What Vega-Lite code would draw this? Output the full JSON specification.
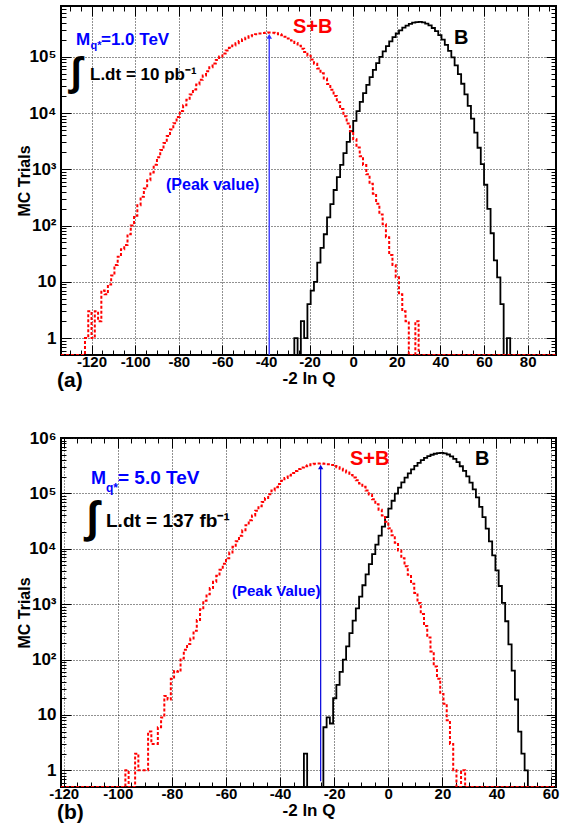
{
"$schema": "https://vega.github.io/schema/vega-lite/v6.json",
"background": "white",
"padding": {"left": 15, "top": 4, "right": 10, "bottom": 2},
"spacing": 83,
"bounds": "flush",
"config": {
  "view": {"stroke": "#000", "strokeWidth": 2},
  "axis": {"labelFont": "Liberation Sans", "labelFontWeight": "bold", "labelColor": "#000", "titleFont": "Liberation Sans", "titleFontWeight": "bold", "titleColor": "#000", "domain": false, "tickColor": "#000", "tickWidth": 1, "gridColor": "#222", "gridDash": [1, 2], "gridWidth": 1, "labelOverlap": false, "labelFlush": false, "labelBound": false}
},
"datasets": {
"a": [
{"s":"B","x":-28.5,"y":0.5},{"s":"B","x":-27,"y":1},{"s":"B","x":-25.5,"y":0.5},{"s":"B","x":-24,"y":2},{"s":"B","x":-22.5,"y":1},{"s":"B","x":-21,"y":4},{"s":"B","x":-19.5,"y":7},{"s":"B","x":-18,"y":10},{"s":"B","x":-16.5,"y":22},{"s":"B","x":-15,"y":40},{"s":"B","x":-13.5,"y":70},{"s":"B","x":-12,"y":140},{"s":"B","x":-10.5,"y":240},{"s":"B","x":-9,"y":429},{"s":"B","x":-7.5,"y":724},{"s":"B","x":-6,"y":1197},{"s":"B","x":-4.5,"y":1941},{"s":"B","x":-3,"y":3076},{"s":"B","x":-1.5,"y":4780},{"s":"B","x":0,"y":7280},{"s":"B","x":1.5,"y":10840},{"s":"B","x":3,"y":15850},{"s":"B","x":4.5,"y":22650},{"s":"B","x":6,"y":31700},{"s":"B","x":7.5,"y":43550},{"s":"B","x":9,"y":58480},{"s":"B","x":10.5,"y":77090},{"s":"B","x":12,"y":99300},{"s":"B","x":13.5,"y":125300},{"s":"B","x":15,"y":155200},{"s":"B","x":16.5,"y":187900},{"s":"B","x":18,"y":223300},{"s":"B","x":19.5,"y":259400},{"s":"B","x":21,"y":295100},{"s":"B","x":22.5,"y":329600},{"s":"B","x":24,"y":359700},{"s":"B","x":25.5,"y":385500},{"s":"B","x":27,"y":403600},{"s":"B","x":28.5,"y":414000},{"s":"B","x":30,"y":416900},{"s":"B","x":31.5,"y":408300},{"s":"B","x":33,"y":389000},{"s":"B","x":34.5,"y":360600},{"s":"B","x":36,"y":325100},{"s":"B","x":37.5,"y":285100},{"s":"B","x":39,"y":243200},{"s":"B","x":40.5,"y":201400},{"s":"B","x":42,"y":162600},{"s":"B","x":43.5,"y":127600},{"s":"B","x":45,"y":97300},{"s":"B","x":46.5,"y":70500},{"s":"B","x":48,"y":49300},{"s":"B","x":49.5,"y":33200},{"s":"B","x":51,"y":21500},{"s":"B","x":52.5,"y":13400},{"s":"B","x":54,"y":7960},{"s":"B","x":55.5,"y":4490},{"s":"B","x":57,"y":2415},{"s":"B","x":58.5,"y":1240},{"s":"B","x":60,"y":531},{"s":"B","x":61.5,"y":198},{"s":"B","x":63,"y":73},{"s":"B","x":64.5,"y":24},{"s":"B","x":66,"y":12},{"s":"B","x":67.5,"y":4},{"s":"B","x":69,"y":0.5},{"s":"B","x":70.5,"y":1},{"s":"B","x":72,"y":0.5},{"s":"B","x":73.5,"y":0.5},
{"s":"SB","x":-134,"y":0.5},{"s":"SB","x":-123,"y":1},{"s":"SB","x":-121.5,"y":3},{"s":"SB","x":-120,"y":1},{"s":"SB","x":-118.5,"y":3},{"s":"SB","x":-117,"y":2},{"s":"SB","x":-115.5,"y":7},{"s":"SB","x":-114,"y":6},{"s":"SB","x":-112.5,"y":9},{"s":"SB","x":-111,"y":13},{"s":"SB","x":-109.5,"y":20},{"s":"SB","x":-108,"y":28},{"s":"SB","x":-106.5,"y":38},{"s":"SB","x":-105,"y":45},{"s":"SB","x":-103.5,"y":70},{"s":"SB","x":-102,"y":100},{"s":"SB","x":-100.5,"y":150},{"s":"SB","x":-99,"y":229},{"s":"SB","x":-97.5,"y":325},{"s":"SB","x":-96,"y":457},{"s":"SB","x":-94.5,"y":638},{"s":"SB","x":-93,"y":881},{"s":"SB","x":-91.5,"y":1208},{"s":"SB","x":-90,"y":1641},{"s":"SB","x":-88.5,"y":2208},{"s":"SB","x":-87,"y":2944},{"s":"SB","x":-85.5,"y":3890},{"s":"SB","x":-84,"y":5100},{"s":"SB","x":-82.5,"y":6620},{"s":"SB","x":-81,"y":8530},{"s":"SB","x":-79.5,"y":10890},{"s":"SB","x":-78,"y":13770},{"s":"SB","x":-76.5,"y":17260},{"s":"SB","x":-75,"y":21430},{"s":"SB","x":-73.5,"y":26360},{"s":"SB","x":-72,"y":32210},{"s":"SB","x":-70.5,"y":38900},{"s":"SB","x":-69,"y":46670},{"s":"SB","x":-67.5,"y":55460},{"s":"SB","x":-66,"y":65310},{"s":"SB","x":-64.5,"y":76210},{"s":"SB","x":-63,"y":88100},{"s":"SB","x":-61.5,"y":100900},{"s":"SB","x":-60,"y":114800},{"s":"SB","x":-58.5,"y":129100},{"s":"SB","x":-57,"y":144200},{"s":"SB","x":-55.5,"y":159600},{"s":"SB","x":-54,"y":175000},{"s":"SB","x":-52.5,"y":190100},{"s":"SB","x":-51,"y":204700},{"s":"SB","x":-49.5,"y":218800},{"s":"SB","x":-48,"y":231200},{"s":"SB","x":-46.5,"y":242700},{"s":"SB","x":-45,"y":252400},{"s":"SB","x":-43.5,"y":259400},{"s":"SB","x":-42,"y":264800},{"s":"SB","x":-40.5,"y":268500},{"s":"SB","x":-39,"y":269200},{"s":"SB","x":-37.5,"y":266700},{"s":"SB","x":-36,"y":261200},{"s":"SB","x":-34.5,"y":252400},{"s":"SB","x":-33,"y":241000},{"s":"SB","x":-31.5,"y":227000},{"s":"SB","x":-30,"y":211300},{"s":"SB","x":-28.5,"y":194100},{"s":"SB","x":-27,"y":175800},{"s":"SB","x":-25.5,"y":157400},{"s":"SB","x":-24,"y":139300},{"s":"SB","x":-22.5,"y":121600},{"s":"SB","x":-21,"y":104700},{"s":"SB","x":-19.5,"y":89100},{"s":"SB","x":-18,"y":75000},{"s":"SB","x":-16.5,"y":62100},{"s":"SB","x":-15,"y":50900},{"s":"SB","x":-13.5,"y":41100},{"s":"SB","x":-12,"y":32900},{"s":"SB","x":-10.5,"y":25880},{"s":"SB","x":-9,"y":20140},{"s":"SB","x":-7.5,"y":15490},{"s":"SB","x":-6,"y":11750},{"s":"SB","x":-4.5,"y":8810},{"s":"SB","x":-3,"y":6520},{"s":"SB","x":-1.5,"y":4750},{"s":"SB","x":0,"y":3430},{"s":"SB","x":1.5,"y":2440},{"s":"SB","x":3,"y":1714},{"s":"SB","x":4.5,"y":1191},{"s":"SB","x":6,"y":815},{"s":"SB","x":7.5,"y":552},{"s":"SB","x":9,"y":368},{"s":"SB","x":10.5,"y":243},{"s":"SB","x":12,"y":158},{"s":"SB","x":13.5,"y":105},{"s":"SB","x":15,"y":62},{"s":"SB","x":16.5,"y":30},{"s":"SB","x":18,"y":20},{"s":"SB","x":19.5,"y":12},{"s":"SB","x":21,"y":6},{"s":"SB","x":22.5,"y":3},{"s":"SB","x":24,"y":2},{"s":"SB","x":25.5,"y":0.5},{"s":"SB","x":28.5,"y":2},{"s":"SB","x":30,"y":0.5},{"s":"SB","x":93,"y":0.5}
],
"b": [
{"s":"B","x":-32.4,"y":0.5},{"s":"B","x":-31.2,"y":2},{"s":"B","x":-30,"y":0.5},{"s":"B","x":-24,"y":6},{"s":"B","x":-22.8,"y":9},{"s":"B","x":-21.6,"y":7},{"s":"B","x":-20.4,"y":20},{"s":"B","x":-19.2,"y":35},{"s":"B","x":-18,"y":60},{"s":"B","x":-16.8,"y":100},{"s":"B","x":-15.6,"y":173},{"s":"B","x":-14.4,"y":299},{"s":"B","x":-13.2,"y":506},{"s":"B","x":-12,"y":841},{"s":"B","x":-10.8,"y":1371},{"s":"B","x":-9.6,"y":2193},{"s":"B","x":-8.4,"y":3443},{"s":"B","x":-7.2,"y":5300},{"s":"B","x":-6,"y":8000},{"s":"B","x":-4.8,"y":11860},{"s":"B","x":-3.6,"y":17220},{"s":"B","x":-2.4,"y":25180},{"s":"B","x":-1.2,"y":37150},{"s":"B","x":0,"y":53090},{"s":"B","x":1.2,"y":73620},{"s":"B","x":2.4,"y":98860},{"s":"B","x":3.6,"y":127400},{"s":"B","x":4.8,"y":157800},{"s":"B","x":6,"y":192300},{"s":"B","x":7.2,"y":230100},{"s":"B","x":8.4,"y":270400},{"s":"B","x":9.6,"y":312600},{"s":"B","x":10.8,"y":355600},{"s":"B","x":12,"y":397200},{"s":"B","x":13.2,"y":436500},{"s":"B","x":14.4,"y":470900},{"s":"B","x":15.6,"y":498900},{"s":"B","x":16.8,"y":520000},{"s":"B","x":18,"y":533300},{"s":"B","x":19.2,"y":537000},{"s":"B","x":20.4,"y":527500},{"s":"B","x":21.6,"y":503500},{"s":"B","x":22.8,"y":465600},{"s":"B","x":24,"y":418800},{"s":"B","x":25.2,"y":365600},{"s":"B","x":26.4,"y":309000},{"s":"B","x":27.6,"y":254100},{"s":"B","x":28.8,"y":202800},{"s":"B","x":30,"y":156700},{"s":"B","x":31.2,"y":117800},{"s":"B","x":32.4,"y":84500},{"s":"B","x":33.6,"y":57300},{"s":"B","x":34.8,"y":37200},{"s":"B","x":36,"y":23170},{"s":"B","x":37.2,"y":13650},{"s":"B","x":38.4,"y":7620},{"s":"B","x":39.6,"y":4090},{"s":"B","x":40.8,"y":2130},{"s":"B","x":42,"y":1057},{"s":"B","x":43.2,"y":492},{"s":"B","x":44.4,"y":188},{"s":"B","x":45.6,"y":63},{"s":"B","x":46.8,"y":19},{"s":"B","x":48,"y":5},{"s":"B","x":49.2,"y":2},{"s":"B","x":50.4,"y":1},{"s":"B","x":51.6,"y":0.5},{"s":"B","x":52.8,"y":0.5},
{"s":"SB","x":-121,"y":0.5},{"s":"SB","x":-97.2,"y":1},{"s":"SB","x":-96,"y":0.5},{"s":"SB","x":-93.6,"y":2},{"s":"SB","x":-92.4,"y":1},{"s":"SB","x":-91.2,"y":1},{"s":"SB","x":-90,"y":1},{"s":"SB","x":-88.8,"y":5},{"s":"SB","x":-87.6,"y":3},{"s":"SB","x":-86.4,"y":3},{"s":"SB","x":-85.2,"y":6},{"s":"SB","x":-84,"y":9},{"s":"SB","x":-82.8,"y":22},{"s":"SB","x":-81.6,"y":19},{"s":"SB","x":-80.4,"y":45},{"s":"SB","x":-79.2,"y":62},{"s":"SB","x":-78,"y":60},{"s":"SB","x":-76.8,"y":105},{"s":"SB","x":-75.6,"y":150},{"s":"SB","x":-74.4,"y":190},{"s":"SB","x":-73.2,"y":240},{"s":"SB","x":-72,"y":330},{"s":"SB","x":-70.8,"y":520},{"s":"SB","x":-69.6,"y":807},{"s":"SB","x":-68.4,"y":1156},{"s":"SB","x":-67.2,"y":1507},{"s":"SB","x":-66,"y":1954},{"s":"SB","x":-64.8,"y":2529},{"s":"SB","x":-63.6,"y":3258},{"s":"SB","x":-62.4,"y":4178},{"s":"SB","x":-61.2,"y":5346},{"s":"SB","x":-60,"y":6776},{"s":"SB","x":-58.8,"y":8590},{"s":"SB","x":-57.6,"y":10840},{"s":"SB","x":-56.4,"y":13710},{"s":"SB","x":-55.2,"y":17220},{"s":"SB","x":-54,"y":21530},{"s":"SB","x":-52.8,"y":26670},{"s":"SB","x":-51.6,"y":32810},{"s":"SB","x":-50.4,"y":40090},{"s":"SB","x":-49.2,"y":48530},{"s":"SB","x":-48,"y":58340},{"s":"SB","x":-46.8,"y":69660},{"s":"SB","x":-45.6,"y":82410},{"s":"SB","x":-44.4,"y":96610},{"s":"SB","x":-43.2,"y":112500},{"s":"SB","x":-42,"y":129700},{"s":"SB","x":-40.8,"y":147900},{"s":"SB","x":-39.6,"y":168300},{"s":"SB","x":-38.4,"y":189700},{"s":"SB","x":-37.2,"y":211300},{"s":"SB","x":-36,"y":232800},{"s":"SB","x":-34.8,"y":254100},{"s":"SB","x":-33.6,"y":274200},{"s":"SB","x":-32.4,"y":292400},{"s":"SB","x":-31.2,"y":309000},{"s":"SB","x":-30,"y":322800},{"s":"SB","x":-28.8,"y":334200},{"s":"SB","x":-27.6,"y":342000},{"s":"SB","x":-26.4,"y":345900},{"s":"SB","x":-25.2,"y":346700},{"s":"SB","x":-24,"y":343600},{"s":"SB","x":-22.8,"y":336500},{"s":"SB","x":-21.6,"y":326600},{"s":"SB","x":-20.4,"y":312600},{"s":"SB","x":-19.2,"y":296500},{"s":"SB","x":-18,"y":278600},{"s":"SB","x":-16.8,"y":258200},{"s":"SB","x":-15.6,"y":237100},{"s":"SB","x":-14.4,"y":215300},{"s":"SB","x":-13.2,"y":193200},{"s":"SB","x":-12,"y":171800},{"s":"SB","x":-10.8,"y":151000},{"s":"SB","x":-9.6,"y":131200},{"s":"SB","x":-8.4,"y":112700},{"s":"SB","x":-7.2,"y":95100},{"s":"SB","x":-6,"y":78300},{"s":"SB","x":-4.8,"y":63700},{"s":"SB","x":-3.6,"y":50800},{"s":"SB","x":-2.4,"y":39900},{"s":"SB","x":-1.2,"y":30830},{"s":"SB","x":0,"y":23390},{"s":"SB","x":1.2,"y":17460},{"s":"SB","x":2.4,"y":12790},{"s":"SB","x":3.6,"y":9330},{"s":"SB","x":4.8,"y":6760},{"s":"SB","x":6,"y":4830},{"s":"SB","x":7.2,"y":3380},{"s":"SB","x":8.4,"y":2340},{"s":"SB","x":9.6,"y":1592},{"s":"SB","x":10.8,"y":1052},{"s":"SB","x":12,"y":661},{"s":"SB","x":13.2,"y":404},{"s":"SB","x":14.4,"y":250},{"s":"SB","x":15.6,"y":140},{"s":"SB","x":16.8,"y":75},{"s":"SB","x":18,"y":45},{"s":"SB","x":19.2,"y":24},{"s":"SB","x":20.4,"y":16},{"s":"SB","x":21.6,"y":8},{"s":"SB","x":22.8,"y":3},{"s":"SB","x":24,"y":1},{"s":"SB","x":25.2,"y":0.5},{"s":"SB","x":26.9,"y":1},{"s":"SB","x":28.4,"y":0.5},{"s":"SB","x":62,"y":0.5}
]
},
"vconcat": [
{
  "width": 495, "height": 349,
  "title": {"text": "(a)", "orient": "bottom", "anchor": "start", "frame": "group", "fontSize": 21, "fontWeight": "bold", "font": "Liberation Sans", "color": "#000", "offset": -16, "dx": -4},
  "data": {"name": "a"},
  "resolve": {"axis": {"x": "independent", "y": "independent"}},
  "layer": [
    {
      "mark": {"type": "point", "opacity": 0, "size": 1},
      "encoding": {
        "x": {"field": "x", "type": "quantitative", "scale": {"domain": [-134, 93], "nice": false, "zero": false},
          "axis": {"orient": "top", "values": [-130,-125,-120,-115,-110,-105,-100,-95,-90,-85,-80,-75,-70,-65,-60,-55,-50,-45,-40,-35,-30,-25,-20,-15,-10,-5,0,5,10,15,20,25,30,35,40,45,50,55,60,65,70,75,80,85,90], "labels": false, "grid": false, "title": null,
            "tickSize": {"condition": {"test": "datum.value % 20 == 0", "value": -10}, "value": -5}}},
        "y": {"field": "y", "type": "quantitative", "scale": {"type": "log", "domain": [0.5, 800000], "nice": false},
          "axis": {"orient": "right", "values": [0.6,0.7,0.8,0.9,1,2,3,4,5,6,7,8,9,10,20,30,40,50,60,70,80,90,100,200,300,400,500,600,700,800,900,1000,2000,3000,4000,5000,6000,7000,8000,9000,10000,20000,30000,40000,50000,60000,70000,80000,90000,100000,200000,300000,400000,500000,600000,700000], "labels": false, "grid": false, "title": null,
            "tickSize": {"condition": {"test": "indexof([1,10,100,1000,10000,100000,1000000], datum.value) >= 0", "value": -10}, "value": -5}}}
      }
    },
    {
      "transform": [{"filter": "datum.s == 'B'"}],
      "mark": {"type": "line", "interpolate": "step-after", "color": "#000", "strokeWidth": 1.8, "clip": true},
      "encoding": {
        "x": {"field": "x", "type": "quantitative", "scale": {"domain": [-134, 93], "nice": false, "zero": false},
          "axis": {"orient": "bottom", "values": [-130,-125,-120,-115,-110,-105,-100,-95,-90,-85,-80,-75,-70,-65,-60,-55,-50,-45,-40,-35,-30,-25,-20,-15,-10,-5,0,5,10,15,20,25,30,35,40,45,50,55,60,65,70,75,80,85,90],
            "labelExpr": "datum.value % 20 == 0 ? '' + datum.value : ''",
            "tickSize": {"condition": {"test": "datum.value % 20 == 0", "value": -10}, "value": -5},
            "labelFontSize": {"condition": {"test": "datum.value % 20 == 0", "value": 15}, "value": 0},
            "grid": true, "gridOpacity": {"condition": {"test": "datum.value % 20 == 0", "value": 1}, "value": 0},
            "labelPadding": 9, "title": "-2 ln Q", "titleFontSize": 17, "titlePadding": 1}},
        "y": {"field": "y", "type": "quantitative", "scale": {"type": "log", "domain": [0.5, 800000], "nice": false},
          "axis": {"orient": "left", "values": [0.6,0.7,0.8,0.9,1,2,3,4,5,6,7,8,9,10,20,30,40,50,60,70,80,90,100,200,300,400,500,600,700,800,900,1000,2000,3000,4000,5000,6000,7000,8000,9000,10000,20000,30000,40000,50000,60000,70000,80000,90000,100000,200000,300000,400000,500000,600000,700000],
            "labelExpr": "datum.value == 1 ? '1' : datum.value == 10 ? '10' : datum.value == 100 ? '10²' : datum.value == 1000 ? '10³' : datum.value == 10000 ? '10⁴' : datum.value == 100000 ? '10⁵' : datum.value == 1000000 ? '10⁶' : ''",
            "tickSize": {"condition": {"test": "indexof([1,10,100,1000,10000,100000,1000000], datum.value) >= 0", "value": -10}, "value": -5},
            "labelFontSize": {"condition": {"test": "indexof([1,10,100,1000,10000,100000,1000000], datum.value) >= 0", "value": 17}, "value": 0},
            "grid": true, "gridOpacity": {"condition": {"test": "indexof([1,10,100,1000,10000,100000,1000000], datum.value) >= 0", "value": 1}, "value": 0},
            "labelPadding": 15, "title": "MC Trials", "titleFontSize": 16, "titlePadding": -4}}
      }
    },
    {
      "transform": [{"filter": "datum.s == 'SB'"}],
      "mark": {"type": "line", "interpolate": "step-after", "color": "#ff0000", "strokeWidth": 2, "strokeDash": [3, 2], "clip": true},
      "encoding": {
        "x": {"field": "x", "type": "quantitative", "axis": null},
        "y": {"field": "y", "type": "quantitative", "axis": null}
      }
    },
    {
      "data": {"values": [{}]},
      "mark": {"type": "rule", "color": "#4646ff", "strokeWidth": 1.5},
      "encoding": {"x": {"datum": -38.5, "type": "quantitative", "axis": null}, "y": {"datum": 0.5, "type": "quantitative", "axis": null}, "y2": {"datum": 229600}}
    },
    {
      "data": {"values": [{}]},
      "mark": {"type": "point", "shape": "triangle-up", "filled": true, "color": "#3030ff", "size": 30, "opacity": 1},
      "encoding": {"x": {"datum": -38.5, "type": "quantitative", "axis": null}, "y": {"datum": 229600, "type": "quantitative", "axis": null}}
    },
    {
      "data": {"values": [{}]},
      "mark": {"type": "text", "text": "M", "align": "left", "baseline": "alphabetic", "fontSize": 17, "fontWeight": "bold", "font": "Liberation Sans", "color": "#0000ff"},
      "encoding": {"x": {"datum": -127.12, "type": "quantitative", "axis": null}, "y": {"datum": 162200, "type": "quantitative", "axis": null}}
    },
    {
      "data": {"values": [{}]},
      "mark": {"type": "text", "text": "q*", "align": "left", "baseline": "alphabetic", "fontSize": 11, "fontWeight": "bold", "font": "Liberation Sans", "color": "#0000ff"},
      "encoding": {"x": {"datum": -120.47, "type": "quantitative", "axis": null}, "y": {"datum": 137700, "type": "quantitative", "axis": null}}
    },
    {
      "data": {"values": [{}]},
      "mark": {"type": "text", "text": "=1.0 TeV", "align": "left", "baseline": "alphabetic", "fontSize": 17, "fontWeight": "bold", "font": "Liberation Sans", "color": "#0000ff"},
      "encoding": {"x": {"datum": -115.66, "type": "quantitative", "axis": null}, "y": {"datum": 162200, "type": "quantitative", "axis": null}}
    },
    {
      "data": {"values": [{}]},
      "mark": {"type": "text", "text": "∫", "align": "center", "baseline": "middle", "fontSize": 40, "fontWeight": "bold", "font": "Liberation Sans", "color": "#000"},
      "encoding": {"x": {"datum": -127.12, "type": "quantitative", "axis": null}, "y": {"datum": 51500, "type": "quantitative", "axis": null}}
    },
    {
      "data": {"values": [{}]},
      "mark": {"type": "text", "text": "L.dt = 10 pb⁻¹", "align": "left", "baseline": "alphabetic", "fontSize": 17, "fontWeight": "bold", "font": "Liberation Sans", "color": "#000"},
      "encoding": {"x": {"datum": -120.7, "type": "quantitative", "axis": null}, "y": {"datum": 38600, "type": "quantitative", "axis": null}}
    },
    {
      "data": {"values": [{}]},
      "mark": {"type": "text", "text": "(Peak value)", "align": "left", "baseline": "alphabetic", "fontSize": 16, "fontWeight": "bold", "font": "Liberation Sans", "color": "#0000ff"},
      "encoding": {"x": {"datum": -85.85, "type": "quantitative", "axis": null}, "y": {"datum": 429, "type": "quantitative", "axis": null}}
    },
    {
      "data": {"values": [{}]},
      "mark": {"type": "text", "text": "S+B", "align": "left", "baseline": "alphabetic", "fontSize": 20, "fontWeight": "bold", "font": "Liberation Sans", "color": "#ff0000"},
      "encoding": {"x": {"datum": -27.61, "type": "quantitative", "axis": null}, "y": {"datum": 265000, "type": "quantitative", "axis": null}}
    },
    {
      "data": {"values": [{}]},
      "mark": {"type": "text", "text": "B", "align": "left", "baseline": "alphabetic", "fontSize": 20, "fontWeight": "bold", "font": "Liberation Sans", "color": "#000"},
      "encoding": {"x": {"datum": 46.23, "type": "quantitative", "axis": null}, "y": {"datum": 168700, "type": "quantitative", "axis": null}}
    }
  ]
},
{
  "width": 495, "height": 349,
  "title": {"text": "(b)", "orient": "bottom", "anchor": "start", "frame": "group", "fontSize": 21, "fontWeight": "bold", "font": "Liberation Sans", "color": "#000", "offset": -16, "dx": -4},
  "data": {"name": "b"},
  "resolve": {"axis": {"x": "independent", "y": "independent"}},
  "layer": [
    {
      "mark": {"type": "point", "opacity": 0, "size": 1},
      "encoding": {
        "x": {"field": "x", "type": "quantitative", "scale": {"domain": [-121, 62], "nice": false, "zero": false},
          "axis": {"orient": "top", "values": [-120,-115,-110,-105,-100,-95,-90,-85,-80,-75,-70,-65,-60,-55,-50,-45,-40,-35,-30,-25,-20,-15,-10,-5,0,5,10,15,20,25,30,35,40,45,50,55,60], "labels": false, "grid": false, "title": null,
            "tickSize": {"condition": {"test": "datum.value % 20 == 0", "value": -10}, "value": -5}}},
        "y": {"field": "y", "type": "quantitative", "scale": {"type": "log", "domain": [0.5, 1000000], "nice": false},
          "axis": {"orient": "right", "values": [0.6,0.7,0.8,0.9,1,2,3,4,5,6,7,8,9,10,20,30,40,50,60,70,80,90,100,200,300,400,500,600,700,800,900,1000,2000,3000,4000,5000,6000,7000,8000,9000,10000,20000,30000,40000,50000,60000,70000,80000,90000,100000,200000,300000,400000,500000,600000,700000,800000,900000,1000000], "labels": false, "grid": false, "title": null,
            "tickSize": {"condition": {"test": "indexof([1,10,100,1000,10000,100000,1000000], datum.value) >= 0", "value": -10}, "value": -5}}}
      }
    },
    {
      "transform": [{"filter": "datum.s == 'B'"}],
      "mark": {"type": "line", "interpolate": "step-after", "color": "#000", "strokeWidth": 1.8, "clip": true},
      "encoding": {
        "x": {"field": "x", "type": "quantitative", "scale": {"domain": [-121, 62], "nice": false, "zero": false},
          "axis": {"orient": "bottom", "values": [-120,-115,-110,-105,-100,-95,-90,-85,-80,-75,-70,-65,-60,-55,-50,-45,-40,-35,-30,-25,-20,-15,-10,-5,0,5,10,15,20,25,30,35,40,45,50,55,60],
            "labelExpr": "datum.value % 20 == 0 ? '' + datum.value : ''",
            "tickSize": {"condition": {"test": "datum.value % 20 == 0", "value": -10}, "value": -5},
            "labelFontSize": {"condition": {"test": "datum.value % 20 == 0", "value": 15}, "value": 0},
            "grid": true, "gridOpacity": {"condition": {"test": "datum.value % 20 == 0", "value": 1}, "value": 0},
            "labelPadding": 9, "title": "-2 ln Q", "titleFontSize": 17, "titlePadding": 1}},
        "y": {"field": "y", "type": "quantitative", "scale": {"type": "log", "domain": [0.5, 1000000], "nice": false},
          "axis": {"orient": "left", "values": [0.6,0.7,0.8,0.9,1,2,3,4,5,6,7,8,9,10,20,30,40,50,60,70,80,90,100,200,300,400,500,600,700,800,900,1000,2000,3000,4000,5000,6000,7000,8000,9000,10000,20000,30000,40000,50000,60000,70000,80000,90000,100000,200000,300000,400000,500000,600000,700000,800000,900000,1000000],
            "labelExpr": "datum.value == 1 ? '1' : datum.value == 10 ? '10' : datum.value == 100 ? '10²' : datum.value == 1000 ? '10³' : datum.value == 10000 ? '10⁴' : datum.value == 100000 ? '10⁵' : datum.value == 1000000 ? '10⁶' : ''",
            "tickSize": {"condition": {"test": "indexof([1,10,100,1000,10000,100000,1000000], datum.value) >= 0", "value": -10}, "value": -5},
            "labelFontSize": {"condition": {"test": "indexof([1,10,100,1000,10000,100000,1000000], datum.value) >= 0", "value": 17}, "value": 0},
            "grid": true, "gridOpacity": {"condition": {"test": "indexof([1,10,100,1000,10000,100000,1000000], datum.value) >= 0", "value": 1}, "value": 0},
            "labelPadding": 15, "title": "MC Trials", "titleFontSize": 16, "titlePadding": -4}}
      }
    },
    {
      "transform": [{"filter": "datum.s == 'SB'"}],
      "mark": {"type": "line", "interpolate": "step-after", "color": "#ff0000", "strokeWidth": 2, "strokeDash": [3, 2], "clip": true},
      "encoding": {
        "x": {"field": "x", "type": "quantitative", "axis": null},
        "y": {"field": "y", "type": "quantitative", "axis": null}
      }
    },
    {
      "data": {"values": [{}]},
      "mark": {"type": "rule", "color": "#0000dd", "strokeWidth": 1.2},
      "encoding": {"x": {"datum": -25, "type": "quantitative", "axis": null}, "y": {"datum": 0.634, "type": "quantitative", "axis": null}, "y2": {"datum": 299300}}
    },
    {
      "data": {"values": [{}]},
      "mark": {"type": "point", "shape": "triangle-up", "filled": true, "color": "#0000dd", "size": 28, "opacity": 1},
      "encoding": {"x": {"datum": -25, "type": "quantitative", "axis": null}, "y": {"datum": 299300, "type": "quantitative", "axis": null}}
    },
    {
      "data": {"values": [{}]},
      "mark": {"type": "text", "text": "M", "align": "left", "baseline": "alphabetic", "fontSize": 18, "fontWeight": "bold", "font": "Liberation Sans", "color": "#0000ff"},
      "encoding": {"x": {"datum": -109.91, "type": "quantitative", "axis": null}, "y": {"datum": 147900, "type": "quantitative", "axis": null}}
    },
    {
      "data": {"values": [{}]},
      "mark": {"type": "text", "text": "q*", "align": "left", "baseline": "alphabetic", "fontSize": 12, "fontWeight": "bold", "font": "Liberation Sans", "color": "#0000ff"},
      "encoding": {"x": {"datum": -104.36, "type": "quantitative", "axis": null}, "y": {"datum": 105900, "type": "quantitative", "axis": null}}
    },
    {
      "data": {"values": [{}]},
      "mark": {"type": "text", "text": "= 5.0 TeV", "align": "left", "baseline": "alphabetic", "fontSize": 19, "fontWeight": "bold", "font": "Liberation Sans", "color": "#0000ff"},
      "encoding": {"x": {"datum": -99.93, "type": "quantitative", "axis": null}, "y": {"datum": 147900, "type": "quantitative", "axis": null}}
    },
    {
      "data": {"values": [{}]},
      "mark": {"type": "text", "text": "∫", "align": "center", "baseline": "middle", "fontSize": 44, "fontWeight": "bold", "font": "Liberation Sans", "color": "#000"},
      "encoding": {"x": {"datum": -109.35, "type": "quantitative", "axis": null}, "y": {"datum": 35200, "type": "quantitative", "axis": null}}
    },
    {
      "data": {"values": [{}]},
      "mark": {"type": "text", "text": "L.dt = 137 fb⁻¹", "align": "left", "baseline": "alphabetic", "fontSize": 19, "fontWeight": "bold", "font": "Liberation Sans", "color": "#000"},
      "encoding": {"x": {"datum": -104.36, "type": "quantitative", "axis": null}, "y": {"datum": 24700, "type": "quantitative", "axis": null}}
    },
    {
      "data": {"values": [{}]},
      "mark": {"type": "text", "text": "(Peak Value)", "align": "left", "baseline": "alphabetic", "fontSize": 15, "fontWeight": "bold", "font": "Liberation Sans", "color": "#0000ff"},
      "encoding": {"x": {"datum": -57.78, "type": "quantitative", "axis": null}, "y": {"datum": 1406, "type": "quantitative", "axis": null}}
    },
    {
      "data": {"values": [{}]},
      "mark": {"type": "text", "text": "S+B", "align": "left", "baseline": "alphabetic", "fontSize": 20, "fontWeight": "bold", "font": "Liberation Sans", "color": "#ff0000"},
      "encoding": {"x": {"datum": -14.16, "type": "quantitative", "axis": null}, "y": {"datum": 325800, "type": "quantitative", "axis": null}}
    },
    {
      "data": {"values": [{}]},
      "mark": {"type": "text", "text": "B", "align": "left", "baseline": "alphabetic", "fontSize": 20, "fontWeight": "bold", "font": "Liberation Sans", "color": "#000"},
      "encoding": {"x": {"datum": 32.05, "type": "quantitative", "axis": null}, "y": {"datum": 325800, "type": "quantitative", "axis": null}}
    }
  ]
}
]
}
